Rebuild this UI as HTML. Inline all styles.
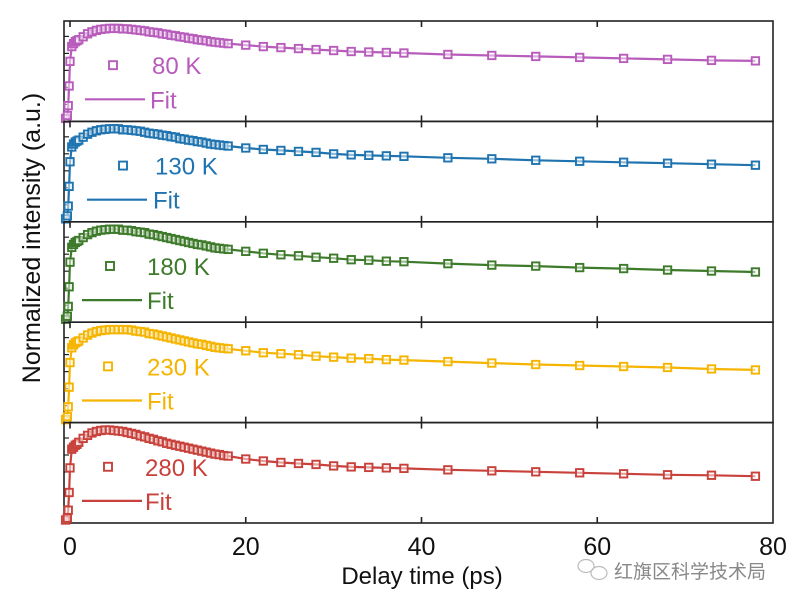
<!DOCTYPE html>
<html><head><meta charset="utf-8"><style>
body{margin:0;background:#fff;}
svg{display:block;font-family:"Liberation Sans","Noto Sans CJK SC",sans-serif;}
</style></head><body>
<svg id="chart" width="800" height="605" viewBox="0 0 800 605"></svg>
<script>
const times=[-0.5,-0.3,-0.2,-0.1,0,0.2,0.4,0.6,0.8,1,1.5,2,2.5,3,3.5,4,4.5,5,5.5,
6,6.5,7,7.5,8,8.5,9,9.5,10,10.5,11,11.5,12,12.5,13,13.5,14,14.5,15,15.5,16,16.5,17,17.5,18,
20,22,24,26,28,30,32,34,36,38,43,48,53,58,63,68,73,78];
const pre=[0.02,0.05,0.15,0.35,0.6,0.75,0.78,0.8,0.81,0.82,0.85,0.88,0.9,0.915,0.925,0.93,0.935,0.935,0.935];
const pre280=[0.02,0.04,0.12,0.3,0.55,0.74,0.76,0.78,0.79,0.81,0.85,0.88,0.905,0.92,0.93,0.935,0.935,0.93,0.925];
const vals80=pre.concat([0.93,0.93,0.925,0.92,0.915,0.91,0.9,0.895,0.89,0.88,0.875,0.865,0.86,0.85,0.845,0.835,0.83,0.82,0.815,0.81,0.8,0.795,0.79,0.785,0.78,
0.765,0.75,0.74,0.73,0.72,0.71,0.7,0.695,0.69,0.685,0.67,0.66,0.65,0.64,0.63,0.62,0.61,0.605]);
const vals130=pre.concat([0.925,0.925,0.92,0.915,0.91,0.9,0.89,0.885,0.88,0.87,0.865,0.855,0.85,0.835,0.83,0.82,0.815,0.805,0.8,0.79,0.78,0.775,0.77,0.765,0.76,
0.74,0.725,0.715,0.705,0.695,0.68,0.67,0.665,0.66,0.655,0.64,0.63,0.615,0.605,0.595,0.585,0.575,0.565]);
const vals180=pre.concat([0.925,0.925,0.92,0.91,0.905,0.9,0.885,0.88,0.87,0.86,0.85,0.84,0.83,0.82,0.81,0.8,0.79,0.78,0.775,0.765,0.755,0.745,0.74,0.735,0.73,
0.71,0.69,0.675,0.665,0.65,0.64,0.625,0.62,0.61,0.605,0.585,0.57,0.56,0.545,0.535,0.52,0.51,0.5]);
const vals230=pre.concat([0.935,0.935,0.93,0.92,0.915,0.91,0.895,0.89,0.88,0.87,0.86,0.85,0.84,0.83,0.82,0.81,0.8,0.79,0.785,0.775,0.765,0.755,0.75,0.745,0.74,
0.72,0.7,0.69,0.68,0.665,0.655,0.645,0.64,0.63,0.625,0.61,0.595,0.58,0.57,0.56,0.55,0.535,0.525]);
const vals280=pre280.concat([0.92,0.91,0.9,0.89,0.875,0.865,0.85,0.84,0.825,0.815,0.8,0.79,0.78,0.77,0.76,0.75,0.74,0.73,0.72,0.71,0.7,0.69,0.685,0.675,0.67,
0.64,0.62,0.605,0.595,0.585,0.57,0.56,0.555,0.55,0.545,0.53,0.52,0.51,0.5,0.49,0.48,0.475,0.465]);
const seriesLabels=["80 K","130 K","180 K","230 K","280 K"];
const seriesVals=[vals80,vals130,vals180,vals230,vals280];
const xTicks=[0,20,40,60,80];
const colors=["#b85cbc","#1f74b0","#3d7a2a","#f5b400","#c8413b"];
const legendX=[[113,152,85,150],[123,155,87,153],[110,147,82,147],[108,147,82,147],[108,145,82,145]];

const svg=document.getElementById('chart');
const NS='http://www.w3.org/2000/svg';
function mk(tag,attrs,parent){const e=document.createElementNS(NS,tag);for(const k in attrs)e.setAttribute(k,attrs[k]);(parent||svg).appendChild(e);return e;}
const L=64,R=773,panelTop=21,panelH=100.4;
const xs=v=>70+(v)*(703/80);
seriesVals.forEach((vals,i)=>{
  const top=panelTop+i*panelH, bot=top+panelH;
  const ys=v=>bot-1-v*(panelH-2);
  const g=mk('g',{});
  
  
  const frame=mk('rect',{x:L,y:top,width:R-L,height:panelH,fill:'none',stroke:'#222','stroke-width':1.6},g);
  
  
  xTicks.forEach(t=>{const x=xs(t);if(x>L+2&&x<R-2){
    mk('line',{x1:x,x2:x,y1:bot,y2:bot-6,stroke:'#222','stroke-width':1.6},g);
    mk('line',{x1:x,x2:x,y1:top,y2:top+6,stroke:'#222','stroke-width':1.6},g);}});
  for(let k=1;k<=5;k++){const y=bot-k*17;mk('line',{x1:L,x2:L+5,y1:y,y2:y,stroke:'#222','stroke-width':1.2},g);}
  const d=vals.map((v,j)=>(j?'L':'M')+xs(times[j]).toFixed(1)+','+ys(v).toFixed(1)).join('');
  const fit=mk('path',{d:d,fill:'none',stroke:colors[i],'stroke-width':2.2},g);
  
  
  vals.forEach((v,j)=>{const m=mk('rect',{x:xs(times[j])-3.7,y:ys(v)-3.7,width:7.4,height:7.4,fill:'#fff','fill-opacity':0.5,stroke:colors[i],'stroke-width':1.9},g);
    
    });
  const lx=legendX[i];
  const lm=mk('rect',{x:lx[0]-4,y:top+0.44*panelH-4,width:8,height:8,fill:'none',stroke:colors[i],'stroke-width':1.9},g);
  
  
  const lt=mk('text',{x:lx[1],y:top+0.44*panelH+9,fill:colors[i],'font-size':24},g);lt.textContent=seriesLabels[i];
  
  
  const ll=mk('line',{x1:lx[2],x2:lx[2]+60,y1:top+0.78*panelH,y2:top+0.78*panelH,stroke:colors[i],'stroke-width':2.2},g);
  
  
  const ft=mk('text',{x:lx[3],y:top+0.78*panelH+9,fill:colors[i],'font-size':24},g);ft.textContent='Fit';
  
  
});
xTicks.forEach(t=>{const tx=mk('text',{x:xs(t),y:555,'text-anchor':'middle','font-size':25,fill:'#111'});tx.textContent=t;
  
  });
const xt=mk('text',{x:422,y:584,'text-anchor':'middle','font-size':24,fill:'#111'});xt.textContent='Delay time (ps)';


const yt=mk('text',{x:0,y:0,'text-anchor':'middle','font-size':25,fill:'#111',transform:'translate(40,238) rotate(-90)','xml:space':'preserve'});yt.textContent='Normalized  intensity (a.u.)';


const wi=mk('g',{fill:'none',stroke:'#bbb','stroke-width':1.2});


mk('ellipse',{cx:586,cy:566,rx:8,ry:6.5},wi);mk('ellipse',{cx:599,cy:573,rx:8,ry:6.5},wi);
const wt=mk('text',{x:614,y:578,'font-size':19,fill:'#888'});wt.textContent='红旗区科学技术局';


</script>
</body></html>
